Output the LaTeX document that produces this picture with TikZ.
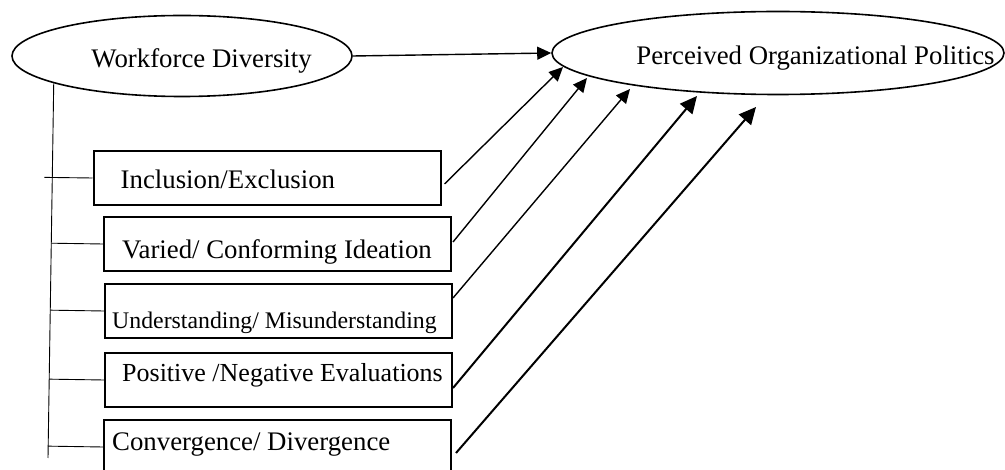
\documentclass[tikz,border=0pt]{standalone}
\usepackage{fontspec}
\setmainfont{Liberation Serif}
\usetikzlibrary{arrows.meta,shapes.geometric,calc}

\begin{document}
\begin{tikzpicture}[
  x=1pt, y=-1pt,
  font=\fontsize{26.8}{32}\selectfont,
  ovalo/.style={ellipse, draw, line width=1.6pt, inner sep=0pt},
  caja/.style={draw, line width=2pt, minimum width=347pt, minimum height=54pt, inner sep=0pt},
  texto/.style={anchor=base west, inner sep=0pt},
  rama/.style={line width=0.9pt},
  flecha/.style={-{Triangle[length=14pt,width=13pt]}, line width=1.4pt},
  flechag/.style={flecha, line width=2pt, -{Triangle[length=17pt,width=16pt]}},
]
\useasboundingbox (0,0) rectangle (1005,470);

% ---- Constructos ----
\node[ovalo, minimum width=340pt, minimum height=81pt,
      label={[texto, xshift=80pt, yshift=-12pt]west:Workforce Diversity}] (wd) at (182,56) {};
\node[ovalo, minimum width=452pt, minimum height=83pt,
      label={[texto, xshift=85pt, yshift=-12pt]west:Perceived Organizational Politics}] (po) at (778,53) {};

% ---- Dimensiones ----
\node[caja, label={[texto, xshift=28pt, yshift=-11pt]west:Inclusion/Exclusion}] (inc) at (267,178) {};
\node[caja, label={[texto, xshift=19pt, yshift=-15pt]west:Varied/ Conforming Ideation}] (var) at (277.5,244) {};
\node[caja, label={[texto, xshift=8pt, yshift=-18pt, font=\fontsize{23.8}{29}\selectfont]west:Understanding/ Misunderstanding}] (und) at (278.5,311) {};
\node[caja, label={[texto, xshift=18pt, yshift=-2pt, font=\fontsize{26}{31}\selectfont]west:Positive /Negative Evaluations}] (pos) at (278.5,380) {};
\node[caja, label={[texto, xshift=9pt, yshift=-3pt]west:Convergence/ Divergence}] (con) at (277.5,447) {};

% ---- Tronco ----
\coordinate (pie) at (48,458);
\draw[rama] (wd.192) -- (pie);
\draw[rama] ($(wd.192)!(inc.west)!(pie)+(-8,0)$) -- (inc.west);
\foreach \b in {var,und,pos,con}
  \draw[rama] ($(wd.192)!(\b.west)!(pie)$) -- (\b.west);

% ---- Flechas ----
\draw[flecha] (wd.east) -- (po.west);
\draw[flecha] ($(inc.east)+(3,6)$) -- ($(po.center)+(-215,14)$);
\draw[flecha] ($(var.east)+(1,-2)$) -- ($(po.center)+(-191,25)$);
\draw[flecha] ($(und.east)+(0,-13)$) -- ($(po.center)+(-148,36)$);
\draw[flechag] ($(pos.east)+(0,8)$) -- ($(po.center)+(-81,43)$);
\draw[flechag] ($(con.east)+(4,6)$) -- ($(po.center)+(-22,54)$);

\end{tikzpicture}
\end{document}
